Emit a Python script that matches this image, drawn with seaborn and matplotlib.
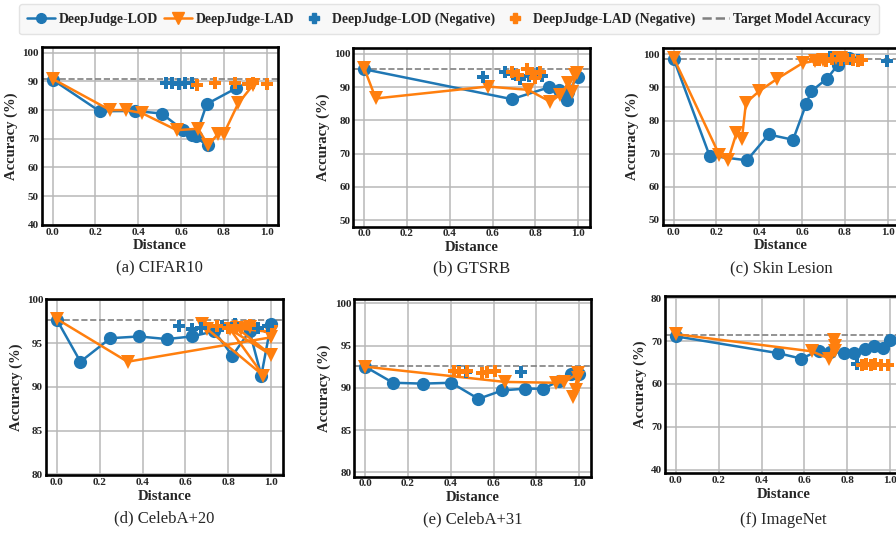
import numpy as np
import pandas as pd
import matplotlib
matplotlib.use("Agg")
import matplotlib.pyplot as plt
import seaborn as sns
from matplotlib.lines import Line2D

sns.set_theme(style="whitegrid")
plt.rcParams["font.family"] = ["Liberation Serif", "DejaVu Serif"]

BLUE = "#1f77b4"
ORANGE = "#ff7f0e"

# ---- data ----
# (a) CIFAR10
a_lod_x = [0.0, 0.22, 0.385, 0.51, 0.61, 0.65, 0.727, 0.67, 0.72, 0.857]
a_lod_y = [90.6, 79.6, 79.7, 78.8, 73.0, 71.2, 67.7, 71.0, 82.1, 87.6]
a_lad_x = [0.0, 0.268, 0.342, 0.416, 0.58, 0.68, 0.727, 0.774, 0.80, 0.867, 0.937]
a_lad_y = [90.9, 80.0, 80.0, 79.0, 73.0, 73.5, 67.7, 71.8, 71.8, 82.3, 88.8]
a_lod_neg_x = [0.53, 0.56, 0.59, 0.62, 0.65, 0.76]
a_lod_neg_y = [89.3, 89.5, 89.2, 89.4, 89.3, 89.5]
a_lad_neg_x = [0.673, 0.758, 0.852, 0.914, 0.937, 1.0]
a_lad_neg_y = [88.8, 89.4, 89.4, 89.2, 89.3, 89.0]
a_target = 91.0

# (b) GTSRB
b_lod_x = [0.0, 0.69, 0.865, 0.908, 0.946, 0.954, 0.997]
b_lod_y = [95.4, 86.4, 90.0, 89.2, 86.0, 88.6, 93.2]
b_lad_x = [0.0, 0.054, 0.577, 0.766, 0.87, 0.915, 0.954, 0.97, 0.985, 0.995]
b_lad_y = [95.7, 86.6, 90.2, 89.2, 85.6, 87.7, 91.2, 88.7, 93.7, 94.2]
b_lod_neg_x = [0.554, 0.66, 0.695, 0.73, 0.77, 0.81, 0.83]
b_lod_neg_y = [93.0, 94.5, 94.0, 92.5, 93.5, 94.2, 93.5]
b_lad_neg_x = [0.69, 0.72, 0.76, 0.785, 0.80, 0.82]
b_lad_neg_y = [94.7, 93.7, 95.6, 94.2, 92.7, 94.7]
b_target = 95.5

# (c) Skin Lesion
c_lod_x = [0.0, 0.168, 0.343, 0.444, 0.558, 0.62, 0.642, 0.717, 0.768, 0.818]
c_lod_y = [98.7, 69.4, 68.0, 75.8, 74.2, 85.1, 88.8, 92.7, 96.9, 98.9]
c_lad_x = [0.0, 0.213, 0.254, 0.293, 0.319, 0.338, 0.40, 0.483, 0.603, 0.66, 0.70, 0.76, 0.78]
c_lad_y = [99.0, 69.7, 68.0, 76.1, 74.4, 85.4, 88.9, 92.6, 97.4, 98.0, 98.3, 98.8, 99.0]
c_lod_neg_x = [0.73, 0.86, 0.997]
c_lod_neg_y = [99.3, 98.3, 98.0]
c_lad_neg_x = [0.66, 0.68, 0.71, 0.74, 0.78, 0.81, 0.84, 0.86, 0.88]
c_lad_neg_y = [98.2, 98.4, 98.1, 98.5, 98.3, 98.6, 98.3, 98.0, 98.4]
c_target = 98.7

# (d) CelebA+20
d_lod_x = [0.0, 0.11, 0.25, 0.384, 0.513, 0.63, 0.735, 0.82, 0.90, 0.955, 1.0]
d_lod_y = [97.7, 92.9, 95.6, 95.8, 95.5, 95.8, 96.4, 93.6, 96.4, 91.3, 97.2]
d_lad_x = [0.0, 0.33, 1.0, 1.0, 0.68, 0.70, 0.965, 0.81, 1.0, 0.84, 0.86, 0.90, 1.0]
d_lad_y = [97.8, 92.9, 95.7, 96.3, 97.2, 96.7, 91.3, 96.6, 93.7, 96.8, 96.6, 96.9, 96.2]
d_lod_neg_x = [0.572, 0.63, 0.675, 0.77, 0.83, 0.94, 0.985]
d_lod_neg_y = [97.0, 96.6, 96.8, 97.0, 97.2, 96.8, 97.0]
d_lad_neg_x = [0.75, 0.80, 0.83, 0.86, 0.90]
d_lad_neg_y = [97.0, 96.8, 97.0, 96.9, 97.1]
d_target = 97.7

# (e) CelebA+31
e_lod_x = [0.0, 0.13, 0.269, 0.402, 0.529, 0.641, 0.745, 0.83, 0.907, 0.96, 1.0]
e_lod_y = [92.5, 90.6, 90.5, 90.6, 88.7, 89.7, 89.9, 89.9, 90.8, 91.6, 91.6]
e_lad_x = [0.0, 0.652, 0.89, 0.93, 0.995, 0.97, 0.985, 0.995]
e_lad_y = [92.5, 90.7, 90.6, 90.7, 91.7, 88.9, 89.8, 91.2]
e_lod_neg_x = [0.44, 0.47, 0.73]
e_lod_neg_y = [92.0, 91.9, 91.9]
e_lad_neg_x = [0.413, 0.436, 0.474, 0.544, 0.567, 0.606]
e_lad_neg_y = [92.0, 91.9, 92.0, 91.8, 91.9, 92.0]
e_target = 92.6

# (f) ImageNet
f_lod_x = [0.0, 0.476, 0.586, 0.667, 0.72, 0.783, 0.834, 0.884, 0.927, 0.966, 1.0]
f_lod_y = [71.1, 67.2, 65.9, 67.8, 67.5, 67.2, 67.2, 68.1, 68.9, 68.5, 70.3]
f_lad_x = [0.0, 0.636, 0.716, 0.74, 0.745, 0.745]
f_lad_y = [71.6, 67.6, 65.9, 70.3, 68.8, 67.6]
f_lod_neg_x = [0.845, 0.868, 0.89, 0.91]
f_lod_neg_y = [64.7, 64.5, 64.6, 64.5]
f_lad_neg_x = [0.87, 0.89, 0.91, 0.93, 0.96, 0.99]
f_lad_neg_y = [64.5, 64.6, 64.4, 64.6, 64.5, 64.5]
f_target = 71.5

x_ticks = [0.0, 0.2, 0.4, 0.6, 0.8, 1.0]

panels = [
    ("(a) CIFAR10", a_lod_x, a_lod_y, a_lad_x, a_lad_y, a_lod_neg_x, a_lod_neg_y,
     a_lad_neg_x, a_lad_neg_y, a_target, (40, 102), [40, 50, 60, 70, 80, 90, 100], None),
    ("(b) GTSRB", b_lod_x, b_lod_y, b_lad_x, b_lad_y, b_lod_neg_x, b_lod_neg_y,
     b_lad_neg_x, b_lad_neg_y, b_target, (48, 101.7), [50, 60, 70, 80, 90, 100], None),
    ("(c) Skin Lesion", c_lod_x, c_lod_y, c_lad_x, c_lad_y, c_lod_neg_x, c_lod_neg_y,
     c_lad_neg_x, c_lad_neg_y, c_target, (48.5, 102), [50, 60, 70, 80, 90, 100], None),
    ("(d) CelebA+20", d_lod_x, d_lod_y, d_lad_x, d_lad_y, d_lod_neg_x, d_lod_neg_y,
     d_lad_neg_x, d_lad_neg_y, d_target, (79.9, 100.1), [80, 85, 90, 95, 100], None),
    ("(e) CelebA+31", e_lod_x, e_lod_y, e_lad_x, e_lad_y, e_lod_neg_x, e_lod_neg_y,
     e_lad_neg_x, e_lad_neg_y, e_target, (79.5, 100.5), [80, 85, 90, 95, 100], None),
    ("(f) ImageNet", f_lod_x, f_lod_y, f_lad_x, f_lad_y, f_lod_neg_x, f_lod_neg_y,
     f_lad_neg_x, f_lad_neg_y, f_target, (39.2, 80.5), [40, 50, 60, 70, 80],
     ["40", "70", "60", "70", "80"]),
]

# axes boxes in figure fractions: left, bottom, width, height
boxes = [
    (0.0465, 0.579, 0.264, 0.333),
    (0.3943, 0.5755, 0.264, 0.334),
    (0.7396, 0.579, 0.264, 0.3315),
    (0.0513, 0.1105, 0.264, 0.3296),
    (0.3954, 0.1073, 0.264, 0.3328),
    (0.7422, 0.1137, 0.264, 0.332),
]
caption_y = [0.498, 0.498, 0.498, 0.030, 0.028, 0.026]

fig = plt.figure(figsize=(8.96, 5.34), dpi=100)

bold = dict(fontweight="bold")
for (cap, lx, ly, tx, ty, lnx, lny, tnx, tny, target, ylim, yt, ytl), box, cy in zip(panels, boxes, caption_y):
    ax = fig.add_axes(box)
    ax.set_facecolor("white")
    ax.axhline(target, color="#808080", ls="--", lw=1.2, zorder=1)
    sns.lineplot(x=lx, y=ly, sort=False, estimator=None, color=BLUE, marker="o",
                 markersize=9.5, lw=1.8, markeredgewidth=0, ax=ax, zorder=3)
    sns.lineplot(x=tx, y=ty, sort=False, estimator=None, color=ORANGE, marker="v",
                 markersize=10.5, lw=1.8, markeredgewidth=0, ax=ax, zorder=4)
    sns.scatterplot(x=lnx, y=lny, marker="P", s=70, color=BLUE, linewidth=0, ax=ax, zorder=5)
    sns.scatterplot(x=tnx, y=tny, marker="P", s=70, color=ORANGE, linewidth=0, ax=ax, zorder=5)
    ax.set_xlim(-0.051, 1.054)
    ax.set_ylim(*ylim)
    ax.set_xticks(x_ticks)
    ax.set_xticklabels([f"{v:.1f}" for v in x_ticks], fontsize=8, **bold)
    ax.set_yticks(yt)
    ax.set_yticklabels(ytl if ytl else [str(v) for v in yt], fontsize=8, **bold)
    ax.tick_params(axis="both", pad=2, length=0)
    ax.grid(True, color="#b8b8b8", lw=1.1)
    for s in ax.spines.values():
        s.set_color("black")
        s.set_linewidth(1.9)
    ax.set_xlabel("Distance", fontsize=10.5, labelpad=2, **bold)
    ax.set_ylabel("Accuracy (%)", fontsize=10.5, labelpad=3, **bold)
    fig.text(box[0] + box[2] / 2, cy, cap, ha="center", va="center", fontsize=12)

handles = [
    Line2D([], [], color=BLUE, marker="o", lw=1.8, markersize=7),
    Line2D([], [], color=ORANGE, marker="v", lw=1.8, markersize=8),
    Line2D([], [], color=BLUE, marker="P", lw=0, markersize=7),
    Line2D([], [], color=ORANGE, marker="P", lw=0, markersize=7),
    Line2D([], [], color="#808080", ls="--", lw=1.8),
]
labels = ["DeepJudge-LOD", "DeepJudge-LAD", "DeepJudge-LOD (Negative)",
          "DeepJudge-LAD (Negative)", "Target Model Accuracy"]
leg = fig.legend(handles, labels, loc="upper left", bbox_to_anchor=(0.018, 0.997),
                 ncol=5, frameon=True, fancybox=True, handlelength=2.0,
                 handletextpad=0.3, columnspacing=0.45, borderpad=0.6, borderaxespad=0.2,
                 prop={"family": ["Liberation Serif"], "weight": "bold", "size": 9.9})
leg.get_frame().set_facecolor("#f7f7f7")
leg.get_frame().set_edgecolor("#dddddd")

fig.savefig("out.png", dpi=100)
